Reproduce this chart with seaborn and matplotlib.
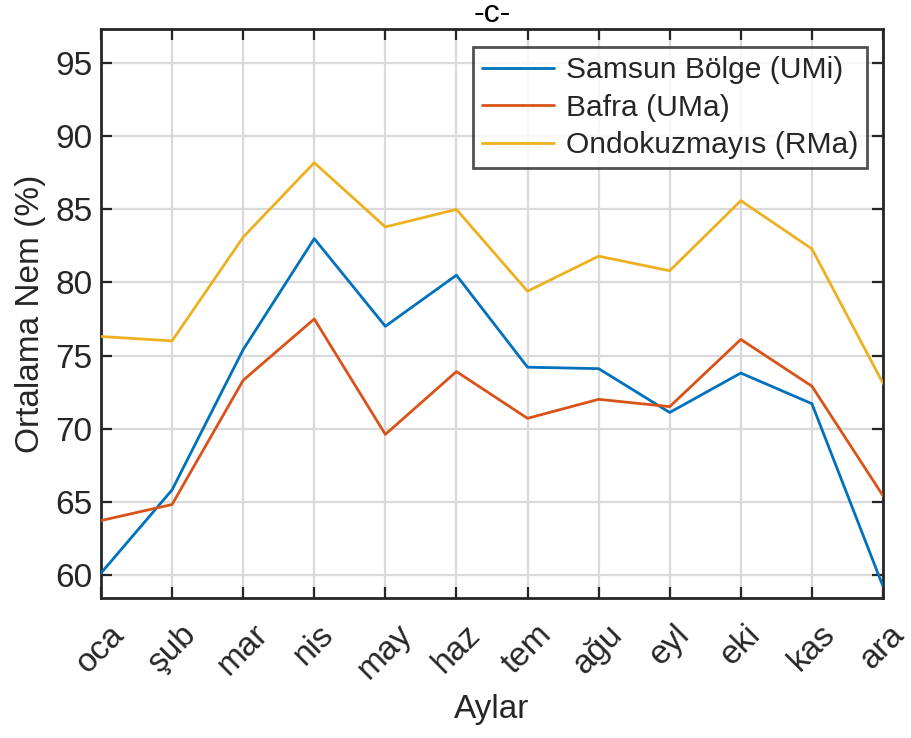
import pandas as pd
import seaborn as sns
import matplotlib.pyplot as plt

# Monthly mean humidity values
months = ['oca', 'şub', 'mar', 'nis', 'may', 'haz', 'tem', 'ağu', 'eyl', 'eki', 'kas', 'ara']
samsun = [60.1, 65.8, 75.4, 83.0, 77.0, 80.5, 74.2, 74.1, 71.1, 73.8, 71.7, 59.2]
bafra = [63.7, 64.8, 73.3, 77.5, 69.6, 73.9, 70.7, 72.0, 71.5, 76.1, 72.9, 65.4]
ondokuz = [76.3, 76.0, 83.1, 88.2, 83.8, 85.0, 79.4, 81.8, 80.8, 85.6, 82.3, 73.1]
series_names = ['Samsun Bölge (UMi)', 'Bafra (UMa)', 'Ondokuzmayıs (RMa)']
colors = ['#0072BD', '#D95319', '#EDB120']

# Long-form table for seaborn
df = pd.DataFrame({
    'month_idx': list(range(len(months))) * 3,
    'value': samsun + bafra + ondokuz,
    'series': [series_names[0]] * 12 + [series_names[1]] * 12 + [series_names[2]] * 12,
})

sns.set_style('white')
plt.rcParams['font.family'] = ['Liberation Sans', 'DejaVu Sans']

fig = plt.figure(figsize=(9.12, 7.38), dpi=100)
ax = fig.add_axes([0.1107, 0.1897, 0.8575, 0.771])

sns.lineplot(data=df, x='month_idx', y='value', hue='series', hue_order=series_names,
             palette=colors, linewidth=2.0, ax=ax, zorder=3)

ax.set_xlim(0, 11)
ax.set_ylim(58.4, 97.35)
ax.set_xticks(range(len(months)))
ax.set_xticklabels(months, rotation=45, ha='center', va='top', fontsize=24, color='#262626')
ax.set_yticks(range(60, 100, 5))
ax.tick_params(axis='y', labelsize=24, labelcolor='#262626', pad=6)
ax.tick_params(direction='in', length=8, width=1.6, color='#262626',
               top=True, right=True, bottom=True, left=True)
ax.tick_params(axis='x', pad=15)

ax.grid(True, color='#dadada', linewidth=1.6, zorder=0)
ax.set_axisbelow(True)
for sp in ax.spines.values():
    sp.set_color('#262626')
    sp.set_linewidth(2.0)

ax.set_xlabel('Aylar', fontsize=24, color='#262626', labelpad=6)
ax.set_ylabel('Ortalama Nem (%)', fontsize=24, color='#262626', labelpad=7)
ax.set_title('-c-', fontsize=23, color='#000000', pad=5)

leg = ax.legend(loc='upper right', fontsize=21.6, frameon=True, fancybox=False,
                edgecolor='#262626', handlelength=2.4, borderpad=0.3,
                labelspacing=0.32, handletextpad=0.4, borderaxespad=0,
                bbox_to_anchor=(0.9795, 0.968))
leg.get_frame().set_linewidth(2.0)
for h in leg.get_lines():
    h.set_linewidth(2.0)

fig.savefig('out.png', dpi=100)
